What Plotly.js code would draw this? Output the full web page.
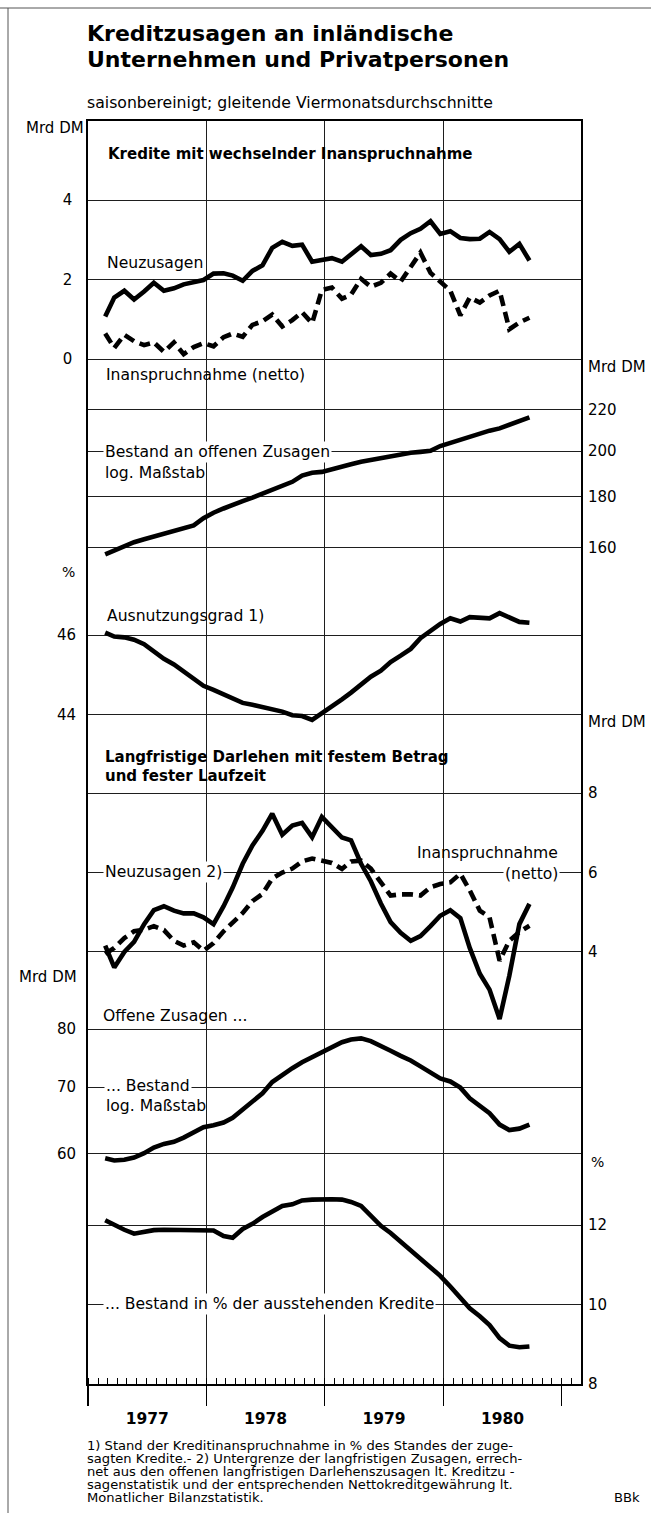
<!DOCTYPE html>
<html><head><meta charset="utf-8">
<script src="https://cdn.plot.ly/plotly-3.0.1.min.js"></script>
<style>html,body{margin:0;padding:0;background:#fff}#chart{width:651px;height:1513px}</style>
</head><body><div id="chart"></div>
<script>
// ---- data (monthly, gleitende Viermonatsdurchschnitte) ----
const months = ["1977-02","1977-03","1977-04","1977-05","1977-06","1977-07","1977-08","1977-09","1977-10","1977-11","1977-12",
"1978-01","1978-02","1978-03","1978-04","1978-05","1978-06","1978-07","1978-08","1978-09","1978-10","1978-11","1978-12",
"1979-01","1979-02","1979-03","1979-04","1979-05","1979-06","1979-07","1979-08","1979-09","1979-10","1979-11","1979-12",
"1980-01","1980-02","1980-03","1980-04","1980-05","1980-06","1980-07","1980-08","1980-09"];

// Kredite mit wechselnder Inanspruchnahme (Mrd DM)
const kwNeuzusagen = [1.07,1.55,1.72,1.50,1.70,1.92,1.72,1.78,1.88,1.94,1.99,2.15,2.16,2.10,1.97,2.22,2.36,2.80,2.95,2.85,2.88,2.45,2.50,2.54,2.45,2.62,2.84,2.62,2.65,2.74,3.00,3.17,3.28,3.47,3.15,3.22,3.05,3.02,3.03,3.20,3.02,2.70,2.90,2.48];
const kwInanspruchnahme = [0.64,0.28,0.61,0.45,0.35,0.42,0.18,0.42,0.12,0.30,0.40,0.32,0.55,0.64,0.56,0.86,0.95,1.12,0.82,0.98,1.18,0.90,1.74,1.80,1.52,1.62,2.02,1.82,1.92,2.15,1.95,2.30,2.68,2.17,1.95,1.72,1.10,1.55,1.42,1.60,1.72,0.75,0.92,1.04];
// Bestand an offenen Zusagen (Mrd DM, log)
const kwBestand = [157.6,159.0,160.8,162.1,163.2,164.3,165.5,166.4,167.5,168.5,171.3,173.5,175.2,176.8,178.2,179.6,181.2,182.8,184.5,186.3,189.0,190.2,190.6,191.6,192.7,194.0,195.1,196.0,196.9,197.8,198.5,199.2,199.6,200.1,202.3,203.8,205.1,207.0,208.6,209.6,210.7,212.6,214.3,216.1];
// Ausnutzungsgrad (%)
const kwAusnutzung = [46.06,45.96,45.94,45.88,45.77,45.58,45.40,45.26,45.08,44.88,44.72,44.62,44.50,44.38,44.29,44.24,44.18,44.14,44.07,43.98,43.96,43.86,44.02,44.20,44.38,44.55,44.75,44.95,45.10,45.32,45.48,45.65,45.92,46.12,46.28,46.42,46.34,46.45,46.42,46.42,46.55,46.45,46.33,46.31];
// Langfristige Darlehen (Mrd DM)
const ldNeuzusagen = [4.16,3.61,4.00,4.25,4.70,5.05,5.15,5.04,4.97,4.97,4.87,4.70,5.15,5.62,6.22,6.68,7.05,7.48,6.95,7.18,7.25,6.89,7.40,7.15,6.88,6.81,6.22,5.78,5.22,4.75,4.48,4.28,4.40,4.65,4.91,5.05,4.85,4.10,3.45,3.05,2.31,3.40,4.70,5.21];
const ldInanspruchnahme = [3.95,4.10,4.35,4.52,4.56,4.65,4.55,4.28,4.16,4.24,4.03,4.22,4.52,4.75,4.98,5.28,5.46,5.85,6.00,6.10,6.28,6.35,6.30,6.24,6.09,6.28,6.30,6.10,5.75,5.42,5.45,5.45,5.42,5.63,5.71,5.75,5.97,5.55,5.04,4.87,3.78,4.28,4.50,4.66];
// Offene Zusagen: Bestand (Mrd DM, log) und in % der ausstehenden Kredite
const ozBestand = [59.4,59.1,59.2,59.5,60.1,60.9,61.4,61.7,62.3,63.1,63.8,64.1,64.5,65.2,66.4,67.7,69.0,70.8,72.0,73.1,74.1,75.0,75.9,76.7,77.6,78.1,78.3,77.8,77.0,76.1,75.2,74.4,73.4,72.4,71.4,70.9,69.9,68.2,67.0,65.9,64.2,63.4,63.6,64.2];
const ozQuote = [12.12,12.00,11.88,11.78,11.82,11.87,11.88,11.88,11.88,11.87,11.87,11.86,11.72,11.68,11.90,12.03,12.20,12.35,12.48,12.52,12.62,12.64,12.65,12.65,12.64,12.58,12.48,12.25,11.98,11.80,11.58,11.38,11.18,10.95,10.72,10.45,10.15,9.90,9.70,9.48,9.15,8.96,8.92,8.94];

// tick values
const ticksP1 = [0,2,4], ticksP2 = [160,180,200,220], ticksP3 = [44,46], ticksP4 = [4,6,8], ticksP5 = [60,70,80], ticksP6 = [8,10,12];
const yearLines = ["1978-01-01","1979-01-01","1980-01-01"];

// ---- geometry ----
const W=651, H=1513, L=88, R=70, T=121, B=129;
const PW=W-L-R, PH=H-T-B, BOT=H-B;
const px = x => (x-L)/PW, py = y => (BOT-y)/PH;
const PPU=39.7, PPD=1000;
const linRange=(v0,y0)=>[v0-(BOT-y0)/PPU, v0+(y0-T)/PPU];
const logRange=(v0,y0)=>{const l=Math.log10(v0);return [l-(BOT-y0)/PPD, l+(y0-T)/PPD];};

const xs = months.map(m=>m+"-23");
const FONT = "DejaVu Sans, Verdana, sans-serif";
const GRID = "#1e1e1e";
const solid = {color:"#000", width:4.6};
const dashed = {color:"#000", width:4.6, dash:"11px,6px"};

const traces = [
 {x:xs, y:kwNeuzusagen, xaxis:"x", yaxis:"y", mode:"lines", line:solid},
 {x:xs, y:kwInanspruchnahme, xaxis:"x2", yaxis:"y", mode:"lines", line:dashed},
 {x:xs, y:kwBestand, xaxis:"x", yaxis:"y2", mode:"lines", line:solid},
 {x:xs, y:kwAusnutzung, xaxis:"x", yaxis:"y3", mode:"lines", line:solid},
 {x:xs, y:ldNeuzusagen, xaxis:"x", yaxis:"y4", mode:"lines", line:solid},
 {x:xs, y:ldInanspruchnahme, xaxis:"x", yaxis:"y4", mode:"lines", line:dashed},
 {x:xs, y:ozBestand, xaxis:"x", yaxis:"y5", mode:"lines", line:solid},
 {x:xs, y:ozQuote, xaxis:"x", yaxis:"y6", mode:"lines", line:solid}
];

const tickfont = {family:FONT, size:15, color:"#000"};
function yax(extra){
  return Object.assign({domain:[0,1], showgrid:true, gridcolor:GRID, gridwidth:1, zeroline:false,
    showline:false, ticks:"", tickmode:"array", tickfont:tickfont, fixedrange:true}, extra);
}

const layout = {
  width:W, height:H, margin:{l:L,r:R,t:T,b:B,pad:0},
  paper_bgcolor:"#fff", plot_bgcolor:"#fff", showlegend:false,
  font:{family:FONT, color:"#000"},
  xaxis:{type:"date", range:["1977-01-01","1981-03-01"], anchor:"y", tick0:"1977-01-01", dtick:"M12",
    tickformat:"%Y", ticklabelmode:"period", ticks:"outside", ticklen:20, tickwidth:1.2, tickcolor:"#000",
    showgrid:false, zeroline:false, showline:true, mirror:true, linecolor:"#000", linewidth:1.6,
    tickfont:{family:FONT, size:15.5, color:"#000", weight:"bold"},
    minor:{dtick:"M1", ticks:"inside", ticklen:6, tickwidth:1, tickcolor:"#000", showgrid:false}, fixedrange:true},
  xaxis2:{type:"date", range:["1977-01-01","1981-03-01"], overlaying:"x", anchor:"y", tickmode:"array",
    tickvals:yearLines, showticklabels:false, ticks:"", showgrid:true, gridcolor:GRID, gridwidth:1.2,
    showline:false, zeroline:false, fixedrange:true},
  yaxis: yax({side:"left", range:linRange(0,359), tickvals:ticksP1, showline:true, mirror:true, linecolor:"#000", linewidth:1.6, ticklabelstandoff:11}),
  yaxis2: yax({overlaying:"y", side:"right", type:"log", range:logRange(200,451), tickvals:ticksP2, ticklabelstandoff:6}),
  yaxis3: yax({overlaying:"y", side:"left", range:linRange(46,635), tickvals:ticksP3, ticklabelstandoff:11}),
  yaxis4: yax({overlaying:"y", side:"right", range:linRange(6,872.5), tickvals:ticksP4, ticklabelstandoff:6}),
  yaxis5: yax({overlaying:"y", side:"left", type:"log", range:logRange(70,1087), tickvals:ticksP5, ticklabelstandoff:11}),
  yaxis6: yax({overlaying:"y", side:"right", range:linRange(8,1383.8), tickvals:ticksP6, ticklabelstandoff:6}),
  annotations:[], shapes:[]
};

function ann(text, x, y, o){
  o=o||{};
  layout.annotations.push({xref:"paper", yref:"paper", x:px(x), y:py(y), text:text, showarrow:false,
    xanchor:o.xa||"left", yanchor:"middle", align:o.xa||"left",
    bgcolor:o.bg||"rgba(0,0,0,0)", borderpad:o.bp||0,
    font:{family:o.f||FONT, size:o.s||15.6, color:"#000"}});
}
ann("<b>Kreditzusagen an inländische</b>", 86, 33, {s:22});
ann("<b>Unternehmen und Privatpersonen</b>", 86, 60, {s:22});
ann("saisonbereinigt; gleitende Viermonatsdurchschnitte", 86, 103, {s:15.7});
ann("Mrd DM", 85, 128, {xa:"right", s:15});
ann("<b>Kredite mit wechselnder Inanspruchnahme</b>", 107, 154, {s:15});
ann("Neuzusagen", 106, 263);
ann("Inanspruchnahme (netto)", 105, 375);
ann("Mrd DM", 587, 367, {s:15});
ann("Bestand an offenen Zusagen", 103, 452, {bg:"#fff", bp:1});
ann("log. Maßstab", 104, 473);
ann("%", 76, 572, {xa:"right", s:14});
ann("Ausnutzungsgrad 1)", 106, 616);
ann("Mrd DM", 587, 722, {s:15});
ann("<b>Langfristige Darlehen mit festem Betrag</b>", 104, 757, {s:15});
ann("<b>und fester Laufzeit</b>", 104, 776, {s:15});
ann("Neuzusagen 2)", 103, 872, {bg:"#fff", bp:1});
ann("Inanspruchnahme", 559, 853, {xa:"right"});
ann("(netto)", 560, 874, {xa:"right", bg:"#fff", bp:1});
ann("Mrd DM", 78, 977, {xa:"right", s:15});
ann("Offene Zusagen ...", 102, 1016);
ann("... Bestand", 104, 1086, {bg:"#fff", bp:1});
ann("log. Maßstab", 105, 1106);
ann("%", 590, 1162, {s:14});
ann("... Bestand in % der ausstehenden Kredite", 103, 1304, {bg:"#fff", bp:1});
const foot = ["1) Stand der Kreditinanspruchnahme in % des Standes der zuge-",
 "sagten Kredite.- 2) Untergrenze der langfristigen Zusagen, errech-",
 "net aus den offenen langfristigen Darlehenszusagen lt. Kreditzu -",
 "sagenstatistik und der entsprechenden Nettokreditgewährung lt.",
 "Monatlicher Bilanzstatistik."];
foot.forEach((t,i)=>ann(t, 86, 1445+i*13, {s:13.1}));
ann("BBk", 641, 1497, {xa:"right", s:13.1});

// page frame lines
layout.shapes.push({type:"line", xref:"paper", yref:"paper", x0:px(8), x1:px(8), y0:py(8), y1:py(1513), line:{color:"#555", width:1}});
layout.shapes.push({type:"line", xref:"paper", yref:"paper", x0:px(0), x1:px(651), y0:py(8), y1:py(8), line:{color:"#555", width:1}});

Plotly.newPlot("chart", traces, layout, {displayModeBar:false, staticPlot:true});
</script></body></html>
